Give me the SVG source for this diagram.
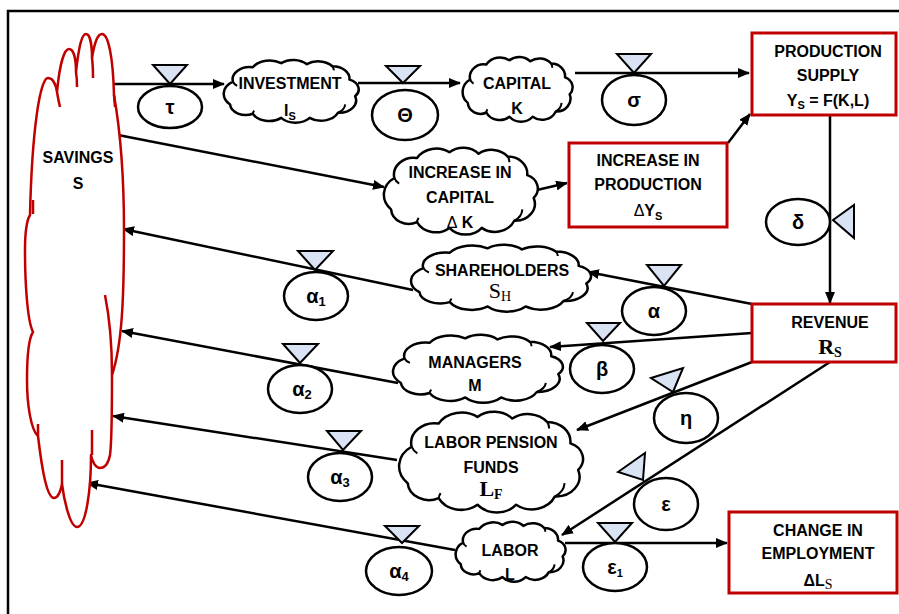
<svg xmlns="http://www.w3.org/2000/svg" xmlns:xlink="http://www.w3.org/1999/xlink" width="899" height="614" viewBox="0 0 899 614">
<style>
.t{font-family:"Liberation Sans",Arial,sans-serif;font-weight:bold;font-size:16px;fill:#000;text-anchor:middle}
.g{font-family:"Liberation Sans",Arial,sans-serif;font-weight:bold;font-size:20px;fill:#000;text-anchor:middle}
.s{font-family:"Liberation Serif","Times New Roman",serif;font-size:22px;fill:#000;text-anchor:middle}
.sub{font-size:11px}
.cl{fill:#fff;stroke:#000;stroke-width:2.5;stroke-linejoin:round}
.ci{fill:none;stroke:#000;stroke-width:2}
.box{fill:#fff;stroke:#C00000;stroke-width:3}
.ar{fill:none;stroke:#000;stroke-width:2.5;marker-end:url(#ah)}
.v{fill:#DAE3F3;stroke:#000;stroke-width:2}
.el{fill:#fff;stroke:#000;stroke-width:2.5}
.sav{fill:#fff;stroke:#C00000;stroke-width:2.5;stroke-linejoin:round}
.savi{fill:none;stroke:#C00000;stroke-width:2.5}
</style>
<defs>
<marker id="ah" markerUnits="userSpaceOnUse" markerWidth="12" markerHeight="10" refX="11" refY="5" orient="auto">
<path d="M0,0 L12,5 L0,10 z" fill="#000"/>
</marker>
<g id="cloud">
<path class="cl" vector-effect="non-scaling-stroke" d="M10,22 A12,12 0 0 1 24,8 A14,14 0 0 1 44,4 A13,13 0 0 1 62,5 A13,13 0 0 1 80,7 A12,12 0 0 1 92,20 A10,10 0 0 1 96,36 A12,12 0 0 1 84,52 A13,13 0 0 1 64,57 A13,13 0 0 1 44,57 A13,13 0 0 1 24,53 A11,11 0 0 1 8,44 A14,14 0 0 1 10,22 Z"/>
<path class="ci" vector-effect="non-scaling-stroke" d="M84,52 A10,10 0 0 0 89,44 M10,22 A8,8 0 0 0 13,26 M80,7 A8,8 0 0 1 81,11 M24,53 A8,8 0 0 1 25,50"/>
</g>
</defs>
<rect x="8" y="11" width="900" height="615" fill="#fff" stroke="#000" stroke-width="2.5"/>

<g id="connectors">
<line class="ar" x1="107" y1="84" x2="224" y2="84"/>
<line class="ar" x1="358" y1="83" x2="460" y2="83"/>
<line class="ar" x1="575" y1="73" x2="749" y2="73"/>
<line class="ar" x1="118" y1="135" x2="384" y2="187"/>
<line class="ar" x1="537" y1="190" x2="567" y2="183"/>
<line class="ar" x1="728" y1="143" x2="750" y2="114"/>
<line class="ar" x1="830" y1="115" x2="830" y2="303"/>
<line class="ar" x1="752" y1="304" x2="588" y2="272"/>
<line class="ar" x1="752" y1="333" x2="550" y2="347"/>
<line class="ar" x1="752" y1="362" x2="577" y2="430"/>
<line class="ar" x1="830" y1="362" x2="562" y2="535"/>
<line class="ar" x1="565" y1="543" x2="727" y2="543"/>
<line class="ar" x1="413" y1="290" x2="123" y2="229"/>
<line class="ar" x1="398" y1="383" x2="122" y2="331"/>
<line class="ar" x1="397" y1="460" x2="113" y2="416"/>
<line class="ar" x1="455" y1="550" x2="87" y2="483"/>
</g>

<g id="savings">
<path class="sav" d="M30,215 C32,130 40,78 48,78 C54,78 56,86 57,92 C60,60 65,49 69,49 C74,49 76,60 76,72 C79,45 82,34 86,34 C90,34 92,45 92,58 C95,40 98,34 102,34 C108,34 113,55 114,95 C121,135 124,180 124,230 C124,300 122,345 112,375 C112,410 112,440 110,455 C108,465 104,468 100,468 C96,468 92,462 91,455 C91,490 86,527 77,527 C70,527 64,500 62,484 C60,494 57,498 54,498 C47,498 42,470 38,436 C31,430 27,405 27,380 C27,352 29,338 33,332 C27,320 25,280 25,250 C25,232 27,220 30,215 Z"/>
<path class="savi" d="M33,200 L33,214 M57,92 C58,98 59,103 60,107 M76,72 C77,78 77,83 77,87 M92,58 C93,66 93,72 93,78 M114,95 L115,107 M105,295 C110,320 112,350 112,375 M92,430 L92,455 M62,460 L62,484 M38,424 L38,436"/>
<text class="t" x="78" y="163" font-size="15">SAVINGS</text>
<text class="t" x="78" y="189" font-size="15">S</text>
</g>

<g id="investment">
<use xlink:href="#cloud" transform="translate(218.7,59) scale(1.421,1.033)"/>
<text class="t" x="290" y="89">INVESTMENT</text>
<text class="t" x="290" y="116">I<tspan class="sub" dy="4">S</tspan></text>
</g>
<g id="capital">
<use xlink:href="#cloud" transform="translate(458.5,56) scale(1.158,1.066)"/>
<text class="t" x="517" y="89">CAPITAL</text>
<text class="t" x="517" y="114">K</text>
</g>
<g id="increase-capital">
<use xlink:href="#cloud" transform="translate(378.1,146.6) scale(1.621,1.426)"/>
<text class="t" x="460" y="178">INCREASE IN</text>
<text class="t" x="460" y="203">CAPITAL</text>
<text class="t" x="460" y="228"><tspan font-weight="normal">Δ</tspan> K</text>
</g>
<g id="shareholders">
<use xlink:href="#cloud" transform="translate(404.3,243.9) scale(1.895,1.098)"/>
<text class="t" x="502" y="276">SHAREHOLDERS</text>
<text class="s" x="500" y="298">S<tspan font-size="14" dy="3">H</tspan></text>
</g>
<g id="managers">
<use xlink:href="#cloud" transform="translate(386.6,333.9) scale(1.789,1.115)"/>
<text class="t" x="475" y="368">MANAGERS</text>
<text class="t" x="475" y="391">M</text>
</g>
<g id="pension">
<use xlink:href="#cloud" transform="translate(392.2,410.3) scale(1.937,1.656)"/>
<text class="t" x="491" y="448">LABOR PENSION</text>
<text class="t" x="491" y="473">FUNDS</text>
<text class="s" x="491" y="496" font-weight="bold">L<tspan font-size="14" dy="3">F</tspan></text>
</g>
<g id="labor">
<use xlink:href="#cloud" transform="translate(451.5,521) scale(1.158,0.984)"/>
<text class="t" x="510" y="556">LABOR</text>
<text class="t" x="510" y="580" font-size="14">L</text>
</g>

<g id="production-supply">
<rect class="box" x="752" y="33" width="144" height="82"/>
<text class="t" x="828" y="57">PRODUCTION</text>
<text class="t" x="828" y="81">SUPPLY</text>
<text class="t" x="828" y="106">Y<tspan class="sub" dy="3">S</tspan><tspan dy="-3"> = F(K,L)</tspan></text>
</g>
<g id="increase-production">
<rect class="box" x="569" y="143" width="158" height="84"/>
<text class="t" x="648" y="166">INCREASE IN</text>
<text class="t" x="648" y="190">PRODUCTION</text>
<text class="t" x="648" y="216"><tspan font-weight="normal">Δ</tspan>Y<tspan class="sub" dy="4">S</tspan></text>
</g>
<g id="revenue">
<rect class="box" x="752" y="304" width="144" height="58"/>
<text class="t" x="830" y="328">REVENUE</text>
<text class="s" x="830" y="354" font-weight="bold">R<tspan font-size="14" dy="3">S</tspan></text>
</g>
<g id="change-employment">
<rect class="box" x="729" y="512" width="168" height="81"/>
<text class="t" x="818" y="536">CHANGE IN</text>
<text class="t" x="818" y="559">EMPLOYMENT</text>
<text class="t" x="818" y="586">ΔL<tspan font-family="Liberation Serif,serif" font-weight="normal" font-size="14" dy="3">S</tspan></text>
</g>

<g id="tau"><polygon class="v" points="153,65 187,65 170,84"/><ellipse class="el" cx="170" cy="107" rx="32" ry="21"/><text class="g" x="170" y="114">τ</text></g>
<g id="theta"><ellipse class="el" cx="405" cy="115" rx="33" ry="25"/><polygon class="v" points="386,66 420,66 403,83"/><text class="g" x="405" y="122">Θ</text></g>
<g id="sigma"><ellipse class="el" cx="634" cy="100" rx="32" ry="25"/><polygon class="v" points="617,54 651,54 634,73"/><text class="g" x="634" y="107">σ</text></g>
<g id="delta"><ellipse class="el" cx="798" cy="222" rx="32" ry="23"/><polygon class="v" points="833,220 854,205 854,238"/><text class="g" x="798" y="229">δ</text></g>
<g id="alpha"><ellipse class="el" cx="654" cy="311" rx="32" ry="24"/><polygon class="v" points="647,265 681,265 664,286"/><text class="g" x="654" y="318">α</text></g>
<g id="beta"><ellipse class="el" cx="602" cy="369" rx="32" ry="24"/><polygon class="v" points="587,323 620,323 603,341"/><text class="g" x="602" y="376">β</text></g>
<g id="eta"><ellipse class="el" cx="686" cy="418" rx="32" ry="25"/><polygon class="v" points="651,378 683,368 673,392"/><text class="g" x="686" y="425">η</text></g>
<g id="epsilon"><ellipse class="el" cx="666" cy="504" rx="32" ry="26"/><polygon class="v" points="618,472 645,453 643,480"/><text class="g" x="666" y="511">ε</text></g>
<g id="epsilon1"><ellipse class="el" cx="615" cy="567" rx="32" ry="24"/><polygon class="v" points="598,523 632,523 615,542"/><text class="g" x="615" y="574">ε<tspan class="sub" font-size="13" dy="3">1</tspan></text></g>
<g id="alpha1"><ellipse class="el" cx="316" cy="296" rx="32" ry="24"/><polygon class="v" points="298,251 333,251 315,270"/><text class="g" x="316" y="303">α<tspan font-size="13" dy="3">1</tspan></text></g>
<g id="alpha2"><ellipse class="el" cx="300" cy="389" rx="32" ry="24"/><polygon class="v" points="283,344 318,344 300,363"/><text class="g" x="302" y="396">α<tspan font-size="13" dy="3">2</tspan></text></g>
<g id="alpha3"><ellipse class="el" cx="340" cy="477" rx="32" ry="24"/><polygon class="v" points="327,431 361,431 343,450"/><text class="g" x="340" y="484">α<tspan font-size="13" dy="3">3</tspan></text></g>
<g id="alpha4"><ellipse class="el" cx="399" cy="571" rx="33" ry="24"/><polygon class="v" points="385,526 419,526 402,543"/><text class="g" x="399" y="578">α<tspan font-size="13" dy="3">4</tspan></text></g>
</svg>
